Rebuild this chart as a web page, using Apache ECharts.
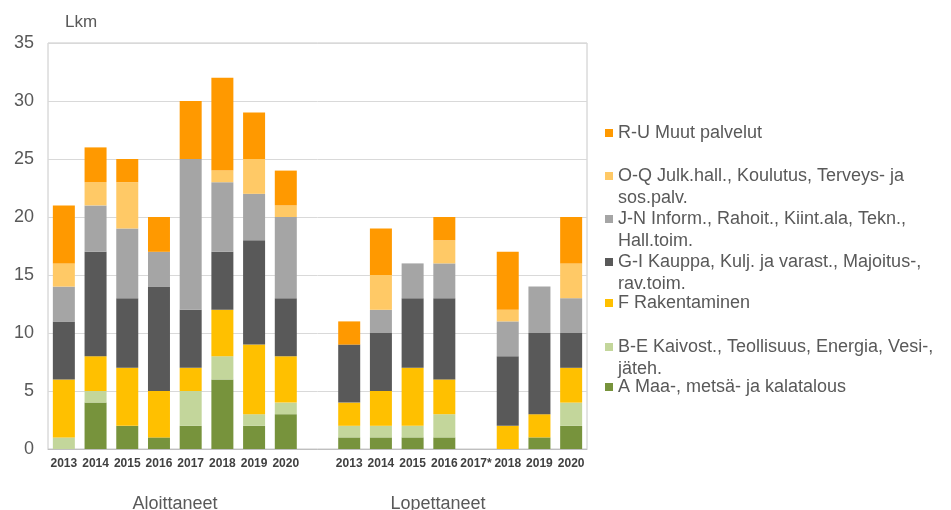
<!DOCTYPE html>
<html><head><meta charset="utf-8">
<script src="https://cdn.jsdelivr.net/npm/echarts@6/dist/echarts.min.js"></script>
<style>html,body{margin:0;padding:0;background:#fff}#c{width:951px;height:510px}</style>
</head><body><div id="c"></div>
<script>
const categories = ['2013','2014','2015','2016','2017','2018','2019','2020','', '2013','2014','2015','2016','2017*','2018','2019','2020'];
const seriesNames = [
  'A Maa-, metsä- ja kalatalous',
  'B-E Kaivost., Teollisuus, Energia, Vesi-, jäteh.',
  'F Rakentaminen',
  'G-I Kauppa, Kulj. ja varast., Majoitus-, rav.toim.',
  'J-N Inform., Rahoit., Kiint.ala, Tekn., Hall.toim.',
  'O-Q Julk.hall., Koulutus, Terveys- ja sos.palv.',
  'R-U Muut palvelut'
];
const legendLine1 = ['A Maa-, metsä- ja kalatalous','B-E Kaivost., Teollisuus, Energia, Vesi-,','F Rakentaminen','G-I Kauppa, Kulj. ja varast., Majoitus-,','J-N Inform., Rahoit., Kiint.ala, Tekn.,','O-Q Julk.hall., Koulutus, Terveys- ja','R-U Muut palvelut'];
const legendLine2 = ['','jäteh.','','rav.toim.','Hall.toim.','sos.palv.',''];
const valsA  = [0,4,2,1,2,6,2,3, null, 1,1,1,1,0,0,1,2];
const valsBE = [1,1,0,0,3,2,1,1, null, 1,1,1,2,0,0,0,2];
const valsF  = [5,3,5,4,2,4,6,4, null, 2,3,5,3,0,2,2,3];
const valsGI = [5,9,6,9,5,5,9,5, null, 5,5,6,7,0,6,7,3];
const valsJN = [3,4,6,3,13,6,4,7, null, 0,2,3,3,0,3,4,3];
const valsOQ = [2,2,4,0,0,1,3,1, null, 0,3,0,2,0,1,0,3];
const valsRU = [5,3,2,3,5,8,4,3, null, 2,4,0,2,0,5,0,4];
const groupLabels = ['Aloittaneet','Lopettaneet'];
const colors = ['#77933c','#c3d69b','#ffc000','#595959','#a5a5a5','#ffc966','#ff9900'];
const allVals = [valsA,valsBE,valsF,valsGI,valsJN,valsOQ,valsRU];

const FONT = 'Liberation Sans, Arial, sans-serif';
// legend layout (top -> bottom order: R-U ... A)
const legendY = {6:133, 5:176, 4:219, 3:262, 2:303, 1:347, 0:387};
const legends = [], graphics = [];
for (let i = 0; i < 7; i++) {
  legends.push({
    data: [seriesNames[i]], left: 605, top: legendY[i] - 11, padding: 0,
    icon: 'rect', itemWidth: 8, itemHeight: 8, selectedMode: false,
    formatter: () => legendLine1[i],
    textStyle: {fontFamily: FONT, fontSize: 18, color: '#595959', height: 22, lineHeight: 22}
  });
  if (legendLine2[i]) {
    graphics.push({type:'text', x: 618, y: legendY[i] + 22,
      style:{text: legendLine2[i], fontFamily: FONT, fontSize: 18, fill:'#595959', textVerticalAlign:'middle'}});
  }
}
graphics.push({type:'text', x: 65, y: 22, style:{text:'Lkm', fontFamily: FONT, fontSize: 17, fill:'#595959', textVerticalAlign:'middle'}});
graphics.push({type:'text', x: 175, y: 504, style:{text:groupLabels[0], fontFamily: FONT, fontSize: 18, fill:'#595959', textAlign:'center', textVerticalAlign:'middle'}});
graphics.push({type:'text', x: 438, y: 504, style:{text:groupLabels[1], fontFamily: FONT, fontSize: 18, fill:'#595959', textAlign:'center', textVerticalAlign:'middle'}});

const chart = echarts.init(document.getElementById('c'), null, {renderer:'canvas'});
chart.setOption({
  animation: false,
  color: colors,
  grid: {left: 48, right: 364, top: 43, bottom: 61, show: true, borderColor: '#c8c8c8', borderWidth: 1},
  legend: legends,
  graphic: graphics,
  xAxis: {
    type: 'category', data: categories,
    axisTick: {show: false},
    axisLine: {show: true, lineStyle: {color: '#bfbfbf'}},
    axisLabel: {interval: 0, fontFamily: FONT, fontWeight: 'bold', fontSize: 12, color: '#404040', margin: 9}
  },
  yAxis: {
    type: 'value', min: 0, max: 35, interval: 5,
    axisLine: {show: false}, axisTick: {show: false},
    splitLine: {lineStyle: {color: '#d9d9d9'}},
    axisLabel: {fontFamily: FONT, fontSize: 18, color: '#595959', margin: 14}
  },
  series: seriesNames.map((n, i) => ({
    name: n, type: 'bar', stack: 'total', barWidth: 22, data: allVals[i],
    itemStyle: {color: colors[i]}
  }))
});
</script></body></html>
